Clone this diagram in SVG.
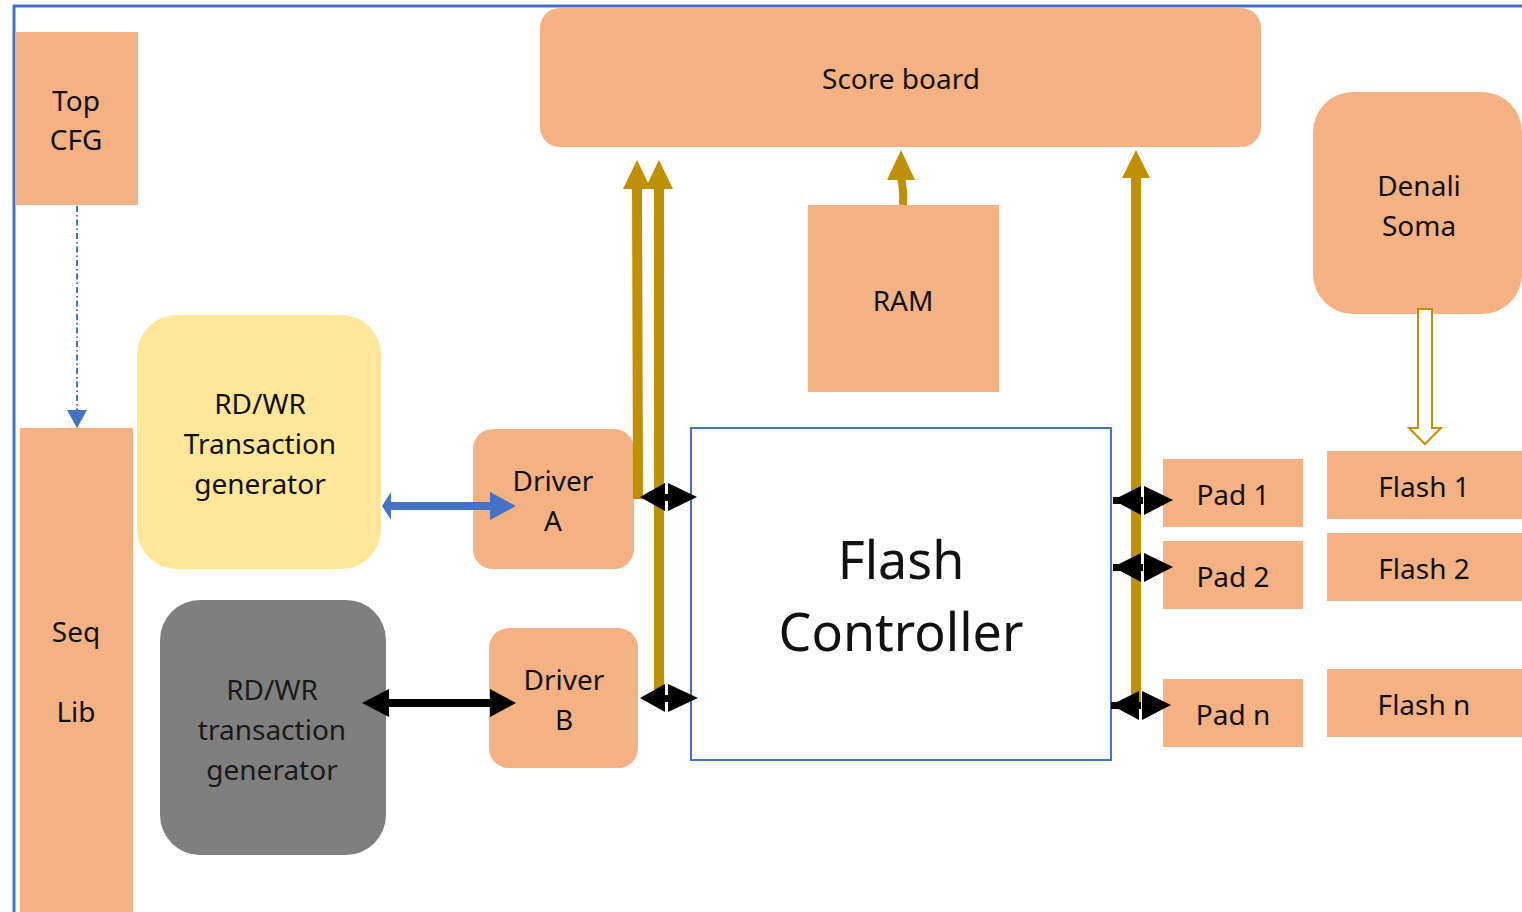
<svg xmlns="http://www.w3.org/2000/svg" width="1522" height="912" viewBox="0 0 1522 912">
<style>
.o{fill:#F4B183}
.t{font-family:"Noto Sans","Open Sans","Liberation Sans",sans-serif;font-size:28px;fill:#111;text-anchor:middle}
.g{fill:#BF9000}
.k{fill:#000}
</style>
<rect width="1522" height="912" fill="#fff"/>
<path d="M14,912 V6 H1522" fill="none" stroke="#4472C4" stroke-width="3"/>

<g id="top-cfg"><rect class="o" x="15" y="32" width="123" height="173"/><text class="t" x="76" y="111">Top</text><text class="t" x="76" y="150">CFG</text></g>
<g id="seq-lib"><rect class="o" x="20" y="428" width="113" height="490"/><text class="t" x="76" y="642">Seq</text><text class="t" x="76" y="722">Lib</text></g>
<g id="scoreboard"><rect class="o" x="540" y="8" width="721" height="139" rx="20"/><text class="t" x="901" y="89">Score board</text></g>
<g id="denali"><rect class="o" x="1313" y="92" width="209" height="222" rx="40"/><text class="t" x="1419" y="196">Denali</text><text class="t" x="1419" y="236">Soma</text></g>
<g id="ram"><rect class="o" x="808" y="205" width="191" height="187"/><text class="t" x="903" y="311">RAM</text></g>
<g id="rdwr-a"><rect x="137" y="315" width="244" height="254" rx="40" fill="#FFE699"/><text class="t" x="260" y="414">RD/WR</text><text class="t" x="260" y="454">Transaction</text><text class="t" x="260" y="494">generator</text></g>
<g id="rdwr-b"><rect x="160" y="600" width="226" height="255" rx="40" fill="#7F7F7F"/><text class="t" x="272" y="700" style="fill:#1a1a1a">RD/WR</text><text class="t" x="272" y="740" style="fill:#1a1a1a">transaction</text><text class="t" x="272" y="780" style="fill:#1a1a1a">generator</text></g>
<g id="driver-a"><rect class="o" x="473" y="429" width="161" height="140" rx="20"/><text class="t" x="553" y="491">Driver</text><text class="t" x="553" y="531">A</text></g>
<g id="driver-b"><rect class="o" x="489" y="628" width="149" height="140" rx="20"/><text class="t" x="564" y="690">Driver</text><text class="t" x="564" y="730">B</text></g>
<g id="flash-controller"><rect x="691" y="428" width="420" height="332" fill="#fff" stroke="#4472C4" stroke-width="2"/><text class="t" x="901" y="579" style="font-size:52px">Flash</text><text class="t" x="901" y="651" style="font-size:52px">Controller</text></g>
<g id="pad1"><rect class="o" x="1163" y="459" width="140" height="68"/><text class="t" x="1233" y="505">Pad 1</text></g>
<g id="pad2"><rect class="o" x="1163" y="541" width="140" height="68"/><text class="t" x="1233" y="587">Pad 2</text></g>
<g id="padn"><rect class="o" x="1163" y="679" width="140" height="68"/><text class="t" x="1233" y="725">Pad n</text></g>
<g id="flash1"><rect class="o" x="1327" y="451" width="200" height="68"/><text class="t" x="1424" y="497">Flash 1</text></g>
<g id="flash2"><rect class="o" x="1327" y="533" width="200" height="68"/><text class="t" x="1424" y="579">Flash 2</text></g>
<g id="flashn"><rect class="o" x="1327" y="669" width="200" height="68"/><text class="t" x="1424" y="715">Flash n</text></g>

<g id="connectors">
  <line x1="77" y1="206" x2="77" y2="412" stroke="#4472C4" stroke-width="2" stroke-dasharray="6,3,1.5,3"/>
  <polygon points="67,410 87,410 77,428" fill="#4472C4"/>
  <polygon points="1418,309 1432,309 1432,428 1441,428 1425,444 1409,428 1418,428" fill="#fff" stroke="#BF9000" stroke-width="2"/>
  <path d="M903,205 Q904,190 901,178" fill="none" stroke="#BF9000" stroke-width="8"/>
  <polygon class="g" points="901,150 915,180 887,180"/>
  <polygon class="g" points="633,499 643,499 642,186 632,186"/>
  <polygon class="g" points="637,160 651,189 623,189"/>
  <rect class="g" x="654" y="186" width="10" height="512"/>
  <polygon class="g" points="659,160 673,189 645,189"/>
  <rect class="g" x="1131" y="176" width="10" height="526"/>
  <polygon class="g" points="1136,150 1150,178 1122,178"/>
  <rect x="390" y="502" width="102" height="8" fill="#4472C4"/>
  <polygon points="382,506 391,492 391,520" fill="#4472C4"/>
  <polygon points="516,506 490,492 490,520" fill="#4472C4"/>
  <rect x="386" y="699" width="106" height="8" class="k"/>
  <polygon class="k" points="362,703 389,689 389,717"/>
  <polygon class="k" points="516,703 490,689 490,717"/>
  <rect class="k" x="660" y="494" width="12" height="7"/>
  <polygon class="k" points="640,497 665,483 665,511"/>
  <polygon class="k" points="697,497 668,483 668,511"/>
  <rect class="k" x="660" y="695" width="12" height="7"/>
  <polygon class="k" points="640,698 665,684 665,712"/>
  <polygon class="k" points="698,698 668,684 668,712"/>
  <rect class="k" x="1113" y="497" width="30" height="7"/>
  <polygon class="k" points="1113,500 1141,486 1141,515"/>
  <polygon class="k" points="1173,500 1144,486 1144,515"/>
  <rect class="k" x="1113" y="564" width="30" height="7"/>
  <polygon class="k" points="1113,567 1141,553 1141,582"/>
  <polygon class="k" points="1173,567 1144,553 1144,582"/>
  <rect class="k" x="1111" y="702" width="30" height="7"/>
  <polygon class="k" points="1111,705 1139,691 1139,720"/>
  <polygon class="k" points="1171,705 1142,691 1142,720"/>
</g>
</svg>
